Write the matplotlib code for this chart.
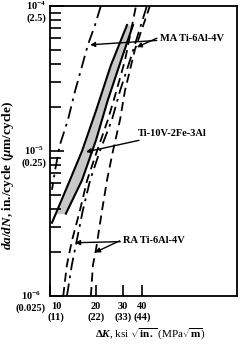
import matplotlib
matplotlib.use("Agg")
import matplotlib.pyplot as plt
import matplotlib.transforms as mtrans
import numpy as np
from matplotlib.ticker import FixedLocator, NullFormatter, LogLocator

plt.rcParams['font.family'] = ['Liberation Serif', 'DejaVu Serif']
plt.rcParams['font.weight'] = 'bold'
plt.rcParams['mathtext.fontset'] = 'custom'
plt.rcParams['mathtext.rm'] = 'Liberation Serif:bold'
plt.rcParams['mathtext.it'] = 'Liberation Serif:italic:bold'
plt.rcParams['mathtext.bf'] = 'Liberation Serif:bold'

# ---- data (dK in ksi*sqrt(in), da/dN in in./cycle) ----
ma1_dk = [21.5, 19.7, 17.7, 14.6, 13.1, 11.6, 10.8, 10.3]
ma1_da = [1e-4, 7.4e-5, 5.4e-5, 2.6e-5, 1.64e-5, 1.1e-5, 7.4e-6, 5.4e-6]

ti_lo_dk = [31.9, 25.0, 20.0, 16.2, 12.7, 10.3]
ti_lo_da = [7.4e-5, 3.9e-5, 1.9e-5, 1.0e-5, 5.4e-6, 3.2e-6]
ti_hi_dk = [34.9, 29.1, 23.9, 20.0, 16.2, 12.7]
ti_hi_da = [7.4e-5, 4.2e-5, 2.25e-5, 1.19e-5, 6.3e-6, 3.7e-6]

ra1_dk = [12.2, 12.9, 13.9, 15.7, 17.5, 20.3, 23.9, 26.6, 30.9, 36.5]
ra1_da = [1e-6, 1.64e-6, 2.4e-6, 3.9e-6, 6.3e-6, 1e-5, 1.64e-5, 2.4e-5, 4.2e-5, 1e-4]

ma2_dk = [12.9, 13.9, 16.4, 18.3, 21.2, 25.4, 28.7, 33.3, 43.0]
ma2_da = [1e-6, 1.64e-6, 3.9e-6, 6.3e-6, 1e-5, 1.64e-5, 2.6e-5, 4.2e-5, 1e-4]

ra2_dk = [18.5, 19.1, 20.0, 21.9, 23.6, 25.8, 28.7, 30.9, 35.9, 45.0]
ra2_da = [1e-6, 1.64e-6, 2.1e-6, 3.9e-6, 6.3e-6, 1e-5, 1.64e-5, 2.6e-5, 5e-5, 1e-4]

xticks = [10, 20, 30, 40]
xticklabels = ['10\n(11)', '20\n(22)', '30\n(33)', '40\n(44)']
yticks = [1e-6, 1e-5, 1e-4]
yticklabels = ['$10^{-6}$\n(0.025)', '$10^{-5}$\n(0.25)', '$10^{-4}$\n(2.5)']

fig = plt.figure(figsize=(2.43, 3.44), dpi=100)
ax = fig.add_axes([50/243, 48/344, 187/243, 290/344])
ax.set_xscale('log')
ax.set_yscale('log')
ax.set_xlim(10, 167)
ax.set_ylim(1e-6, 1e-4)

# Ti-10V-2Fe-3Al band (fill between the two bounding curves in log space)
ly_lo = np.log10(ti_lo_da[::-1]); lx_lo = np.log10(ti_lo_dk[::-1])
ly_hi = np.log10(ti_hi_da[::-1]); lx_hi = np.log10(ti_hi_dk[::-1])
yy = np.linspace(max(ly_lo[0], ly_hi[0]), min(ly_lo[-1], ly_hi[-1]), 100)
ax.fill_betweenx(10**yy, 10**np.interp(yy, ly_lo, lx_lo), 10**np.interp(yy, ly_hi, lx_hi),
                 color='#c8c8c8', lw=0)
ax.plot(ti_lo_dk, ti_lo_da, color='black', lw=1.5)
ax.plot(ti_hi_dk, ti_hi_da, color='black', lw=1.5)

lw = 1.3
dashdot = (0, (7, 3, 1.5, 3))
dashed = (0, (5, 3))
ax.plot(ma1_dk, ma1_da, color='black', lw=lw, ls=dashdot)
ax.plot(ma2_dk, ma2_da, color='black', lw=lw, ls=dashdot)
ax.plot(ra1_dk, ra1_da, color='black', lw=lw, ls=dashed)
ax.plot(ra2_dk, ra2_da, color='black', lw=lw, ls=dashed)

for s in ax.spines.values():
    s.set_linewidth(1.3)

ax.xaxis.set_major_locator(FixedLocator(xticks))
ax.xaxis.set_major_formatter(NullFormatter())
ax.xaxis.set_minor_locator(FixedLocator([]))
ax.yaxis.set_major_locator(FixedLocator(yticks))
ax.yaxis.set_major_formatter(NullFormatter())
ax.yaxis.set_minor_locator(LogLocator(base=10, subs=np.arange(2, 10)))
ax.yaxis.set_minor_formatter(NullFormatter())
ax.tick_params(axis='both', which='both', direction='in', length=8, width=1.2)
ax.tick_params(axis='y', which='major', length=10)

# y tick labels placed slightly below each tick, as in the reference
ytrans = mtrans.blended_transform_factory(ax.transAxes, ax.transData) + \
    mtrans.ScaledTranslation(-4/100, -5/100, fig.dpi_scale_trans)
for v, t in zip(yticks, yticklabels):
    ax.text(0, v, t, transform=ytrans, ha='right', va='center', fontsize=7.5,
            multialignment='center', clip_on=False)

# x tick labels (the first one sits just right of the axis corner)
for i, (v, t) in enumerate(zip(xticks, xticklabels)):
    dx = 6/100 if i == 0 else 0
    tr = mtrans.blended_transform_factory(ax.transData, ax.transAxes) + \
        mtrans.ScaledTranslation(dx, -6/100, fig.dpi_scale_trans)
    ax.text(v, 0, t, transform=tr, ha='center', va='top', fontsize=7.5,
            multialignment='center', clip_on=False)

ax.set_xlabel(r'$\Delta K$, ksi $\sqrt{\mathrm{in.}}$ (MPa$\sqrt{\mathrm{m}}$)', fontsize=8)
ax.xaxis.set_label_coords(0.535, -0.105)
fig.text(8/243, 1 - 175/344, r'$da/dN$, in./cycle ($\mu$m/cycle)', rotation=90,
         fontsize=9.5, ha='center', va='center')

akw = dict(arrowstyle='-|>', color='black', lw=1.0, mutation_scale=7, shrinkA=0, shrinkB=0)
ax.annotate('MA Ti-6Al-4V', xy=(18.3, 5.4e-5), xytext=(52, 6.0e-5),
            fontsize=7.5, va='center', ha='left', arrowprops=akw)
ax.annotate('', xy=(37.0, 5.2e-5), xytext=(50, 6.0e-5), arrowprops=akw)
ax.annotate('Ti-10V-2Fe-3Al', xy=(17.2, 9.85e-6), xytext=(37.5, 1.33e-5),
            fontsize=7.5, va='center', ha='left', arrowprops=akw)
ax.annotate('RA Ti-6Al-4V', xy=(14.6, 2.33e-6), xytext=(30, 2.4e-6),
            fontsize=7.5, va='center', ha='left', arrowprops=akw)
ax.annotate('', xy=(19.7, 2.0e-6), xytext=(28.5, 2.4e-6), arrowprops=akw)

fig.savefig('out.png', dpi=100)
